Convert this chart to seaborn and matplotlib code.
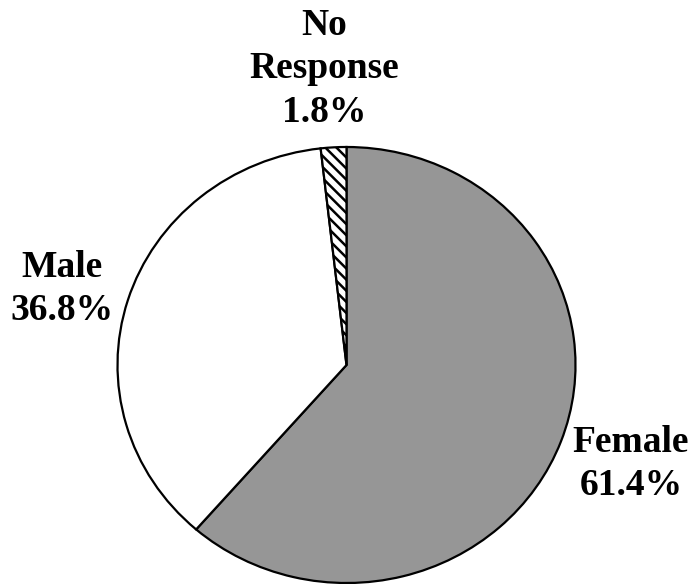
import matplotlib
matplotlib.use("Agg")
import matplotlib.pyplot as plt
import seaborn as sns

categories = ["Female", "Male", "No\nResponse"]
percentages = [61.4, 36.8, 1.8]
slice_colors = ["#969696", "#ffffff", "#ffffff"]
slice_hatches = ["", "", "\\\\\\"]

sns.set_theme(style="white")
plt.rcParams["font.family"] = ["Liberation Serif", "DejaVu Serif"]
plt.rcParams["hatch.linewidth"] = 1.8
plt.rcParams["hatch.color"] = "black"

W, H, DPI = 693, 584, 100
fig = plt.figure(figsize=(W / DPI, H / DPI), dpi=DPI)
fig.patch.set_facecolor("white")

cx, cy, rx, ry = 346.5, 365.0, 229.0, 218.0
ax = fig.add_axes([(cx - rx) / W, (H - cy - ry) / H, 2 * rx / W, 2 * ry / H])

wedges, _ = ax.pie(
    percentages,
    colors=slice_colors,
    startangle=90,
    counterclock=False,
    wedgeprops=dict(edgecolor="black", linewidth=1.6),
)
for w, h in zip(wedges, slice_hatches):
    if h:
        w.set_hatch(h)

ax.set_aspect("auto")
ax.set_xlim(-1, 1)
ax.set_ylim(-1, 1)
ax.set_axis_off()

labels = [f"{c}\n{p:.1f}%" for c, p in zip(categories, percentages)]
# label centers in figure pixels
label_pos = [(631, 464), (62, 289), (324, 69)]
for lab, (px, py) in zip(labels, label_pos):
    fig.text(px / W, 1 - py / H, lab, ha="center", va="center",
             fontsize=27, fontweight="bold", linespacing=1.32, color="black")

fig.savefig("out.png", dpi=DPI, facecolor="white")
